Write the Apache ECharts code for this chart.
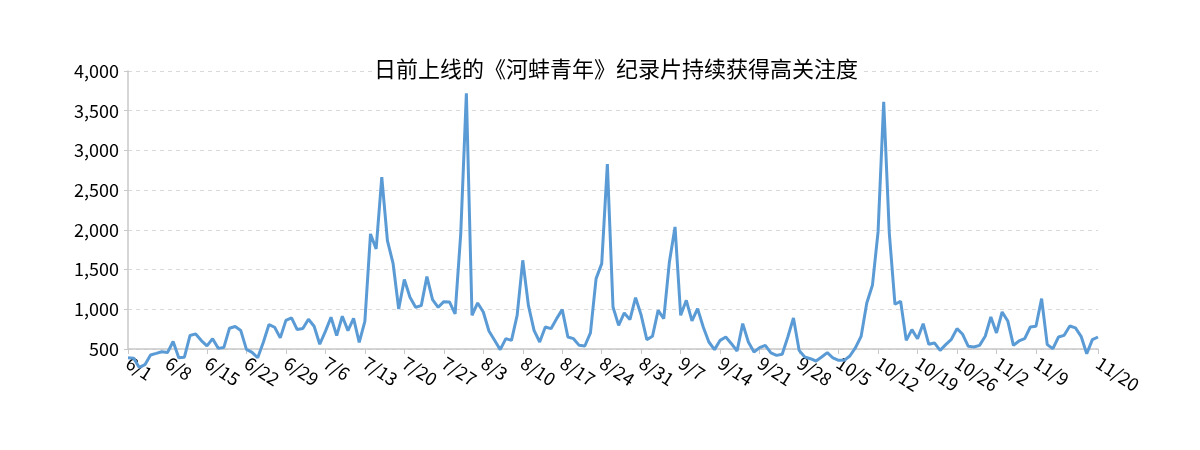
<!DOCTYPE html>
<html>
<head>
    <meta charset="utf-8">
    <title>河蚌青年</title>
    <script src="https://cdn.jsdelivr.net/npm/echarts@6/dist/echarts.min.js"></script>
    <style>
        html, body { margin: 0; padding: 0; background: #fff; }
    </style>
</head>
<body>
    <div id="main" style="width:1200px;height:450px"></div>
</body>
<script>
    // 每月天数，用来生成 6/1 ~ 11/20 的日期
    var months = [6, 7, 8, 9, 10, 11];
    var monthDays = [30, 31, 31, 30, 31, 20];

    var juneValues = [390, 385, 268, 302, 425, 445, 466, 455, 595, 390, 397, 670, 690, 606, 540,
        630, 508, 520, 762, 783, 732, 496, 458, 390, 584, 808, 774, 640, 860, 892];
    var julyValues = [745, 757, 875, 787, 560, 722, 899, 668, 912, 731, 886, 584, 849, 1949, 1760,
        2663, 1865, 1579, 1004, 1374, 1151, 1025, 1046, 1411, 1122, 1025, 1096, 1092, 941, 1950, 3720];
    var augValues = [924, 1080, 966, 727, 609, 492, 630, 609, 924, 1617, 1050, 735, 588, 777, 756,
        882, 996, 651, 630, 546, 538, 702, 1386, 1575, 2827, 1029, 798, 954, 870, 1147, 924];
    var sepValues = [618, 660, 987, 882, 1596, 2037, 924, 1113, 853, 1008, 777, 588, 492, 609, 651,
        567, 475, 819, 588, 462, 517, 546, 450, 420, 433, 651, 891, 483, 399, 378];
    var octValues = [349, 399, 454, 387, 357, 357, 412, 517, 660, 1080, 1302, 1974, 3612, 1953, 1063,
        1101, 609, 744, 630, 819, 559, 576, 483, 555, 622, 756, 685, 534, 525, 546, 660];
    var novValues = [903, 702, 966, 853, 546, 601, 630, 777, 786, 1134, 555, 504, 651, 672, 790,
        765, 660, 441, 618, 651];

    var dates = [];
    for (var m = 0; m < months.length; m++) {
        for (var d = 1; d <= monthDays[m]; d++) {
            dates.push(months[m] + '/' + d);
        }
    }
    var values = juneValues.concat(julyValues, augValues, sepValues, octValues, novValues);

    var lastIndex = dates.length - 1;
    function showDay(index) {
        return (index % 7 === 0 && index <= lastIndex - 7) || index === lastIndex;
    }

    var font = '"Noto Sans CJK SC", "Noto Sans", sans-serif';

    var chart = echarts.init(document.getElementById('main'));
    var option = {
        animation: false,
        title: {
            text: '日前上线的《河蚌青年》纪录片持续获得高关注度',
            left: 372,
            top: 58,
            padding: [0, 2],
            backgroundColor: '#fff',
            textStyle: {
                fontFamily: font,
                fontSize: 22,
                fontWeight: 'normal',
                color: '#000'
            }
        },
        grid: {
            left: 128,
            right: 102,
            top: 71,
            bottom: 101
        },
        xAxis: {
            type: 'category',
            boundaryGap: false,
            data: dates,
            axisLine: { lineStyle: { color: '#c8c8c8', width: 1.5 } },
            axisTick: {
                interval: showDay,
                length: 5,
                lineStyle: { color: '#c8c8c8' }
            },
            axisLabel: {
                interval: showDay,
                rotate: -33,
                margin: 12,
                fontFamily: font,
                fontSize: 18,
                color: '#000'
            }
        },
        yAxis: {
            type: 'value',
            min: 500,
            max: 4000,
            interval: 500,
            axisLine: { show: true, lineStyle: { color: '#c8c8c8', width: 1.5 } },
            axisTick: { show: true, length: 4, lineStyle: { color: '#c8c8c8' } },
            axisLabel: {
                margin: 9,
                fontFamily: font,
                fontSize: 18,
                color: '#000',
                formatter: function (v) { return v.toLocaleString('en-US'); }
            },
            splitLine: { lineStyle: { color: '#d9d9d9', type: [4, 4] } }
        },
        series: [{
            type: 'line',
            data: values,
            clip: false,
            symbol: 'none',
            z: 1,
            lineStyle: { color: '#5b9bd5', width: 3 }
        }]
    };
    chart.setOption(option);
</script>
</html>
